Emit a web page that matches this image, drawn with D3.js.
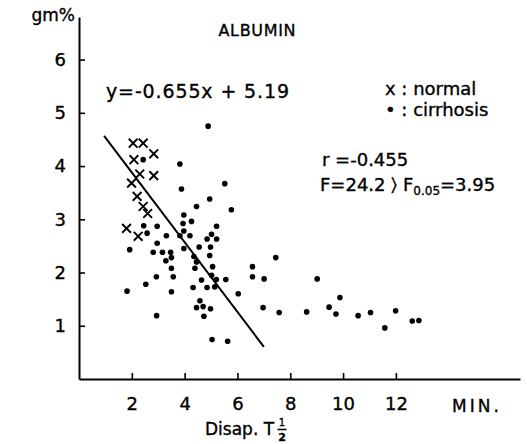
<!DOCTYPE html>
<html>
<head>
<meta charset="utf-8">
<script src="https://cdn.jsdelivr.net/npm/d3@7"></script>
<style>
  html, body { margin: 0; padding: 0; background: #fff; }
  svg { display: block; }
  text { font-family: "DejaVu Sans", "Liberation Sans", sans-serif; fill: #000; stroke: #000; stroke-width: 0.35px; }
</style>
</head>
<body>
<svg id="chart" width="527" height="444"></svg>
<script>
// Serum albumin (gm%) against disappearance half-time (min)
const normalX = [2.05, 2.43, 2.08, 2.83, 2.30, 2.83, 1.99, 2.20, 2.43, 2.60, 1.80, 2.24];
const normalY = [4.43, 4.43, 4.12, 4.23, 3.85, 3.82, 3.68, 3.43, 3.24, 3.11, 2.83, 2.68];

const cirrhosisX = [
  4.89, 2.43, 3.82, 3.88, 5.52, 4.95, 4.45, 5.77, 3.97, 4.26,
  3.94, 5.21, 2.45, 2.96, 3.97, 2.58, 3.31, 3.82, 4.20, 4.85,
  5.02, 5.21, 2.96, 1.92, 3.97, 4.55, 4.98, 2.81, 3.16, 3.47,
  3.50, 4.35, 4.95, 3.29, 4.45, 3.50, 4.39, 5.06, 2.93, 3.57,
  4.64, 5.02, 5.20, 5.56, 2.53, 4.32, 4.85, 5.14, 1.82, 3.50,
  6.03, 4.58, 4.45, 4.70, 4.98, 2.94, 4.73, 5.04, 5.63, 6.57,
  7.45, 6.57, 7.01, 6.97, 7.58, 9.02, 9.88, 8.62, 9.47, 9.73,
  10.57, 11.04, 11.99, 11.58, 12.62, 12.87
];
const cirrhosisY = [
  4.75, 4.12, 4.04, 3.57, 3.67, 3.38, 3.24, 3.18, 3.08, 2.96,
  2.92, 2.87, 2.88, 2.87, 2.78, 2.74, 2.69, 2.69, 2.69, 2.63,
  2.72, 2.63, 2.55, 2.43, 2.45, 2.48, 2.48, 2.38, 2.38, 2.38,
  2.28, 2.30, 2.32, 2.22, 2.20, 2.08, 2.08, 2.11, 1.92, 1.92,
  1.86, 1.95, 1.87, 1.87, 1.78, 1.72, 1.72, 1.73, 1.65, 1.64,
  1.60, 1.47, 1.34, 1.36, 1.32, 1.19, 1.18, 0.74, 0.71, 2.11,
  2.28, 1.92, 1.88, 1.34, 1.25, 1.88, 1.53, 1.26, 1.35, 1.22,
  1.19, 1.25, 1.28, 0.96, 1.09, 1.10
];

// Regression y = slope * x + intercept, drawn over the fitted range
const slope = -0.655;
const intercept = 5.19;
const fitRange = [0.95, 7.0];

const xTicks = [2, 4, 6, 8, 10, 12];
const yTicks = [1, 2, 3, 4, 5, 6];

const svg = d3.select("#chart");

const x = d3.scaleLinear().domain([0, 16.7]).range([79, 520]);
const y = d3.scaleLinear().domain([0, 6.8]).range([379, 17]);

// Axes with inward ticks
const yAxis = svg.append("g")
  .attr("transform", `translate(${x(0)},0)`)
  .call(d3.axisLeft(y).tickValues(yTicks).tickFormat(d3.format("d"))
    .tickSize(-6).tickSizeOuter(0).tickPadding(13));

const xAxis = svg.append("g")
  .attr("transform", `translate(0,${y(0)})`)
  .call(d3.axisBottom(x).tickValues(xTicks).tickFormat(d3.format("d"))
    .tickSize(-6).tickSizeOuter(0).tickPadding(18));

[yAxis, xAxis].forEach(g => {
  g.select(".domain").attr("stroke", "#000").attr("stroke-width", 2);
  g.selectAll(".tick line").attr("stroke", "#000").attr("stroke-width", 1.6);
  g.selectAll(".tick text")
    .attr("font-family", "DejaVu Sans, sans-serif")
    .attr("font-size", 18);
});

// Unit labels
svg.append("text").attr("x", 75).attr("y", 21).attr("text-anchor", "end")
  .attr("font-size", 17).text("gm%");
svg.append("text").attr("x", 452).attr("y", 412)
  .attr("font-size", 17).attr("letter-spacing", 3).text("MIN.");

// Axis title with the ½ fraction
svg.append("text").attr("x", 205).attr("y", 435).attr("font-size", 17)
  .text("Disap. T");
const fracX = 282;
svg.append("text").attr("x", fracX).attr("y", 426).attr("font-size", 10)
  .attr("text-anchor", "middle").text("1");
svg.append("line").attr("x1", fracX - 4.5).attr("x2", fracX + 4.5)
  .attr("y1", 429.5).attr("y2", 429.5).attr("stroke", "#000").attr("stroke-width", 1.6);
svg.append("text").attr("x", fracX).attr("y", 441).attr("font-size", 11)
  .attr("font-weight", "bold").attr("text-anchor", "middle").text("2");

// Title
svg.append("text").attr("x", 257).attr("y", 36).attr("text-anchor", "middle")
  .attr("font-size", 16).attr("textLength", 77).text("ALBUMIN");

// Regression equation and statistics
svg.append("text").attr("x", 106).attr("y", 98).attr("font-size", 19)
  .attr("textLength", 183).text("y=-0.655x + 5.19");

svg.append("text").attr("x", 322).attr("y", 166).attr("font-size", 18)
  .text("r =-0.455");
const ft = svg.append("text").attr("x", 320).attr("y", 191).attr("font-size", 18);
ft.append("tspan").text("F=24.2 \u232A F");
ft.append("tspan").attr("font-size", 12).attr("dy", 4).text("0.05");
ft.append("tspan").attr("dy", -4).text("=3.95");

// Legend
svg.append("text").attr("x", 385).attr("y", 95).attr("font-size", 18)
  .text("x : normal");
svg.append("text").attr("x", 385).attr("y", 116).attr("font-size", 18)
  .text("\u2022 : cirrhosis");

// Fitted line
svg.append("path")
  .datum(fitRange)
  .attr("d", d3.line().x(d => x(d)).y(d => y(slope * d + intercept)))
  .attr("fill", "none").attr("stroke", "#000").attr("stroke-width", 2);

// Cirrhosis cases: filled dots
svg.append("g").selectAll("circle")
  .data(d3.range(cirrhosisX.length))
  .join("circle")
  .attr("cx", i => x(cirrhosisX[i]))
  .attr("cy", i => y(cirrhosisY[i]))
  .attr("r", 2.8)
  .attr("fill", "#000");

// Normal subjects: x marks
const xMark = d3.symbol().type(d3.symbolX).size(52);
svg.append("g").selectAll("path")
  .data(d3.range(normalX.length))
  .join("path")
  .attr("transform", i => `translate(${x(normalX[i])},${y(normalY[i])})`)
  .attr("d", xMark)
  .attr("fill", "none")
  .attr("stroke", "#000")
  .attr("stroke-width", 1.9);
</script>
</body>
</html>
